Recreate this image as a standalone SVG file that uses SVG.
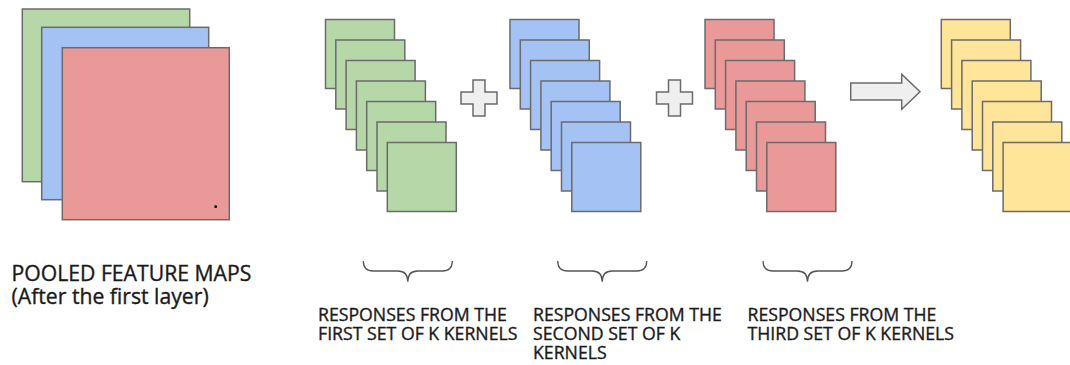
<svg xmlns="http://www.w3.org/2000/svg" width="1070" height="365" viewBox="0 0 1070 365">
  <style>
    .map { stroke: #6b6b6b; stroke-width: 1.5; }
    .green { fill: #b6d7a8; }
    .blue { fill: #a4c2f4; }
    .red { fill: #ea9999; }
    .yellow { fill: #ffe599; }
    .op { fill: #efefef; stroke: #6b6b6b; stroke-width: 1.5; }
    .brace { fill: none; stroke: #555555; stroke-width: 1.3; }
    .label { font-family: "Open Sans", "Noto Sans", sans-serif; fill: #1a1a1a; stroke: #1a1a1a; stroke-width: 0.35; font-weight: 400; }
    .big { font-size: 21.2px; }
    .small { font-size: 17.7px; }
  </style>
  <defs>
    <rect id="tile" width="69" height="69"/>
    <path id="brace" d="M0,0 Q0,10 10,10 L34.5,10 Q44.5,10 44.5,20.7 Q44.5,10 54.5,10 L79,10 Q89,10 89,0"/>
  </defs>

  <!-- pooled feature maps from the first layer -->
  <g id="pooled-maps">
    <rect class="map green" x="22.3" y="9" width="167.4" height="172.7"/>
    <rect class="map blue" x="41.7" y="27.3" width="167" height="172.4"/>
    <rect class="map red" x="62.3" y="47.7" width="167" height="172"/>
    <circle cx="215.7" cy="206.7" r="1.4" fill="#000"/>
  </g>

  <!-- responses of the first kernel set -->
  <g id="responses-first" class="map green">
    <use href="#tile" x="325.5" y="19.5"/>
    <use href="#tile" x="335.8" y="40"/>
    <use href="#tile" x="346.1" y="60.5"/>
    <use href="#tile" x="356.4" y="81"/>
    <use href="#tile" x="366.7" y="101.5"/>
    <use href="#tile" x="377" y="122"/>
    <use href="#tile" x="387.3" y="142.5"/>
  </g>

  <!-- responses of the second kernel set -->
  <g id="responses-second" class="map blue">
    <use href="#tile" x="510" y="19.5"/>
    <use href="#tile" x="520.3" y="40"/>
    <use href="#tile" x="530.6" y="60.5"/>
    <use href="#tile" x="540.9" y="81"/>
    <use href="#tile" x="551.2" y="101.5"/>
    <use href="#tile" x="561.5" y="122"/>
    <use href="#tile" x="571.8" y="142.5"/>
  </g>

  <!-- responses of the third kernel set -->
  <g id="responses-third" class="map red">
    <use href="#tile" x="705" y="19.5"/>
    <use href="#tile" x="715.3" y="40"/>
    <use href="#tile" x="725.6" y="60.5"/>
    <use href="#tile" x="735.9" y="81"/>
    <use href="#tile" x="746.2" y="101.5"/>
    <use href="#tile" x="756.5" y="122"/>
    <use href="#tile" x="766.8" y="142.5"/>
  </g>

  <!-- combined output maps -->
  <g id="output-maps" class="map yellow">
    <use href="#tile" x="941.3" y="19.5"/>
    <use href="#tile" x="951.6" y="40"/>
    <use href="#tile" x="961.9" y="60.5"/>
    <use href="#tile" x="972.2" y="81"/>
    <use href="#tile" x="982.5" y="101.5"/>
    <use href="#tile" x="992.8" y="122"/>
    <use href="#tile" x="1003.1" y="142.5"/>
  </g>

  <!-- operators between the stacks -->
  <g id="connectors">
    <polygon id="plus-1" class="op" points="473,80 485,80 485,92 497,92 497,104 485,104 485,116 473,116 473,104 461,104 461,92 473,92"/>
    <polygon id="plus-2" class="op" points="668.5,80 680.5,80 680.5,92 692.5,92 692.5,104 680.5,104 680.5,116 668.5,116 668.5,104 656.5,104 656.5,92 668.5,92"/>
    <polygon id="arrow" class="op" points="850.7,83 901.7,83 901.7,74.3 920,91.7 901.7,109.3 901.7,100 850.7,100"/>
  </g>

  <!-- braces under each response stack -->
  <g id="braces" class="brace">
    <use href="#brace" x="363.3" y="261"/>
    <use href="#brace" x="557.7" y="261"/>
    <use href="#brace" x="763" y="261"/>
  </g>

  <!-- captions -->
  <g id="caption-pooled" class="label big">
    <text x="11.5" y="281">POOLED FEATURE MAPS</text>
    <text x="11.5" y="304">(After the first layer)</text>
  </g>
  <g id="caption-first" class="label small">
    <text x="318" y="321">RESPONSES FROM THE</text>
    <text x="318" y="339.5">FIRST SET OF K KERNELS</text>
  </g>
  <g id="caption-second" class="label small">
    <text x="533" y="321">RESPONSES FROM THE</text>
    <text x="533" y="339.5">SECOND SET OF K</text>
    <text x="533" y="359">KERNELS</text>
  </g>
  <g id="caption-third" class="label small">
    <text x="747.5" y="321">RESPONSES FROM THE</text>
    <text x="747.5" y="339.5">THIRD SET OF K KERNELS</text>
  </g>
</svg>
